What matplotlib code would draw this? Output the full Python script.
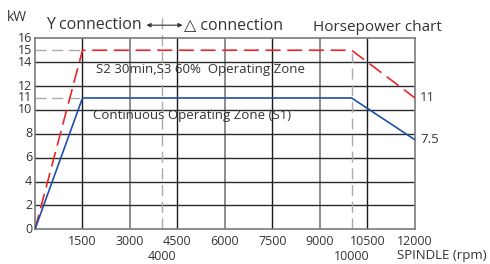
import matplotlib
matplotlib.use("Agg")
import matplotlib.pyplot as plt

plt.rcParams["font.family"] = ["Open Sans", "DejaVu Sans"]

# S2/S3 curve (red dashed) and S1 continuous curve (blue)
rpm = [0, 1500, 10000, 12000]
s2_kw = [0, 15, 15, 11]
s1_kw = [0, 11, 11, 7.5]

x_ticks = [1500, 3000, 4500, 6000, 7500, 9000, 10500, 12000]
x_ticks_low = [4000, 10000]
y_ticks = [0, 2, 4, 6, 8, 10, 11, 12, 14, 15, 16]
grid_x_dark = [1500, 4500, 7500, 10500]
grid_x_gray = [3000, 6000, 9000]
grid_y = [2, 4, 6, 8, 10, 12, 14]

TXT = "#333333"
RED = "#e8262a"
BLUE = "#1f4fa8"

fig = plt.figure(figsize=(4.9, 2.64), dpi=100)
ax = fig.add_axes([0.0714, 0.1314, 0.7755, 0.7235])
ax.set_xlim(0, 12000)
ax.set_ylim(0, 16)

for x in grid_x_dark:
    ax.axvline(x, color="#1a1a1a", lw=1.0, zorder=1)
for x in grid_x_gray:
    ax.axvline(x, color="#7a7a7a", lw=1.2, zorder=1)
for y in grid_y:
    ax.axhline(y, color="#2a2a2a", lw=1.0, zorder=1)
for s in ax.spines.values():
    s.set_color("#7a7a7a")
    s.set_linewidth(1.2)

# reference dashes
ax.plot([0, 1500], [15, 15], color="#aaaaaa", lw=1.0, dashes=(8, 4), zorder=2)
ax.plot([0, 1500], [11, 11], color="#aaaaaa", lw=1.0, dashes=(8, 4), zorder=2)
ax.plot([4000, 4000], [0, 17.8], color="#aaaaaa", lw=1.0, dashes=(8, 4),
        zorder=2, clip_on=False)
ax.plot([10000, 10000], [0, 14.8], color="#aaaaaa", lw=1.0, dashes=(8, 4), zorder=2)

ax.plot(rpm, s2_kw, color=RED, lw=1.2, dashes=(9, 4), zorder=3)
ax.plot(rpm, s1_kw, color=BLUE, lw=1.2, zorder=3)

ax.set_xticks(x_ticks)
ax.set_xticks(x_ticks_low, minor=True)
ax.set_xticklabels([str(v) for v in x_ticks])
ax.set_xticklabels([str(v) for v in x_ticks_low], minor=True)
ax.set_yticks(y_ticks)
ax.tick_params(axis="both", which="both", length=0, labelsize=9, colors=TXT)
ax.tick_params(axis="x", which="major", pad=4)
ax.tick_params(axis="x", which="minor", pad=15)
ax.tick_params(axis="y", pad=2)
for lab in ax.get_yticklabels():
    lab.set_verticalalignment("center")

ax.text(-560, 17.75, "kW", fontsize=10, color=TXT, ha="center", va="center")
ax.text(3380, 17.1, "Y connection", fontsize=11.5, color=TXT, ha="right", va="center")
ax.annotate("", xy=(3520, 17.1), xytext=(4660, 17.1),
            arrowprops=dict(arrowstyle="<|-|>", color=TXT, lw=0.8,
                            mutation_scale=6, shrinkA=0, shrinkB=0),
            annotation_clip=False)
ax.text(4700, 17.1, "△ connection", fontsize=11.5, color=TXT, ha="left", va="center")
ax.text(10830, 16.9, "Horsepower chart", fontsize=11, color=TXT, ha="center", va="center")

ax.text(1926, 13.4, "S2 30min,S3 60%  Operating Zone", fontsize=9.5, color=TXT,
        ha="left", va="center")
ax.text(1830, 9.5, "Continuous Operating Zone (S1)", fontsize=9.5, color=TXT,
        ha="left", va="center")
ax.text(12160, 11, "11", fontsize=9.5, color=TXT, ha="left", va="center")
ax.text(12160, 7.5, "7.5", fontsize=9.5, color=TXT, ha="left", va="center")
ax.text(11430, -0.136, "SPINDLE (rpm)", fontsize=9.5, color=TXT, ha="left", va="center",
        transform=ax.get_xaxis_transform())

fig.savefig("out.png", dpi=100)
